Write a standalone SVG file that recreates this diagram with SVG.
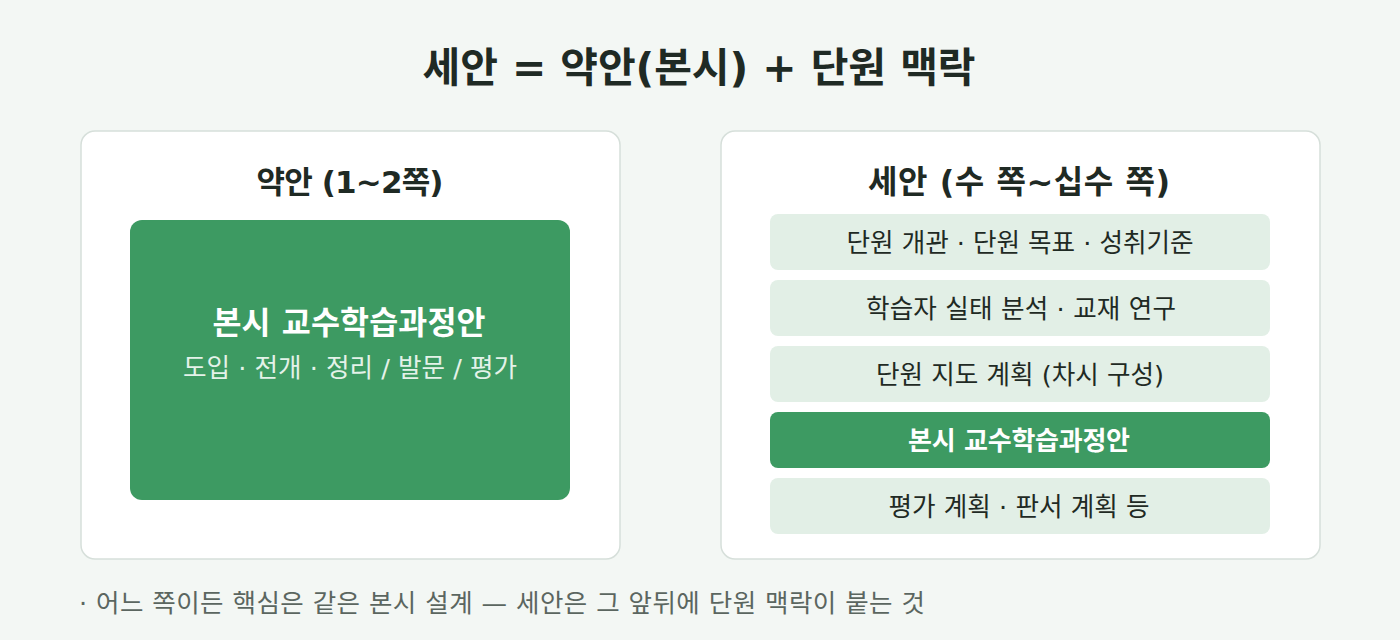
<svg xmlns="http://www.w3.org/2000/svg" width="1400" height="640" viewBox="0 0 1400 640">
<style>
text{font-family:"DejaVu Sans","Noto Sans CJK KR",sans-serif}
.card{fill:#ffffff;stroke:#d6dfda;stroke-width:1.5}
.h{font-weight:700;fill:#1f2a24;text-anchor:middle}
.row{fill:#e2efe6}
.rowt{font-size:25.6px;fill:#1f2a24;text-anchor:middle}
.hi{fill:#3d9a62}
.wt{fill:#ffffff;font-weight:700;text-anchor:middle}
</style>
<rect width="1400" height="640" fill="#f3f7f4"/>
<text class="h" x="699" y="82" font-size="41" textLength="553" lengthAdjust="spacing">세안 = 약안(본시) + 단원 맥락</text>
<g id="left">
<rect class="card" x="81" y="131" width="539" height="428" rx="14"/>
<text class="h" x="350" y="193" font-size="31" textLength="187" lengthAdjust="spacing">약안 (1~2쪽)</text>
<rect class="hi" x="130" y="220" width="440" height="280" rx="12"/>
<text class="wt" x="349" y="334" font-size="31.5" textLength="273" lengthAdjust="spacing">본시 교수학습과정안</text>
<text x="350" y="377" font-size="25.6" fill="#e4f2e9" text-anchor="middle" textLength="334" lengthAdjust="spacing">도입 · 전개 · 정리 / 발문 / 평가</text>
</g>
<g id="right">
<rect class="card" x="721" y="131" width="599" height="428" rx="14"/>
<text class="h" x="1019" y="193" font-size="32" textLength="302" lengthAdjust="spacing">세안 (수 쪽~십수 쪽)</text>
<g id="r1"><rect class="row" x="770" y="214" width="500" height="56" rx="8"/><text class="rowt" x="1020" y="252" textLength="347" lengthAdjust="spacing">단원 개관 · 단원 목표 · 성취기준</text></g>
<g id="r2"><rect class="row" x="770" y="280" width="500" height="56" rx="8"/><text class="rowt" x="1021" y="318" textLength="310" lengthAdjust="spacing">학습자 실태 분석 · 교재 연구</text></g>
<g id="r3"><rect class="row" x="770" y="346" width="500" height="56" rx="8"/><text class="rowt" x="1020" y="384" textLength="288" lengthAdjust="spacing">단원 지도 계획 (차시 구성)</text></g>
<g id="r4"><rect class="hi" x="770" y="412" width="500" height="56" rx="8"/><text class="wt" x="1019" y="450" font-size="26" textLength="222" lengthAdjust="spacing">본시 교수학습과정안</text></g>
<g id="r5"><rect class="row" x="770" y="478" width="500" height="56" rx="8"/><text class="rowt" x="1019" y="516" textLength="261" lengthAdjust="spacing">평가 계획 · 판서 계획 등</text></g>
</g>
<g id="connectors"></g>
<text x="79" y="612" font-size="25.5" fill="#5b6660" textLength="846" lengthAdjust="spacing">· 어느 쪽이든 핵심은 같은 본시 설계 — 세안은 그 앞뒤에 단원 맥락이 붙는 것</text>
</svg>
